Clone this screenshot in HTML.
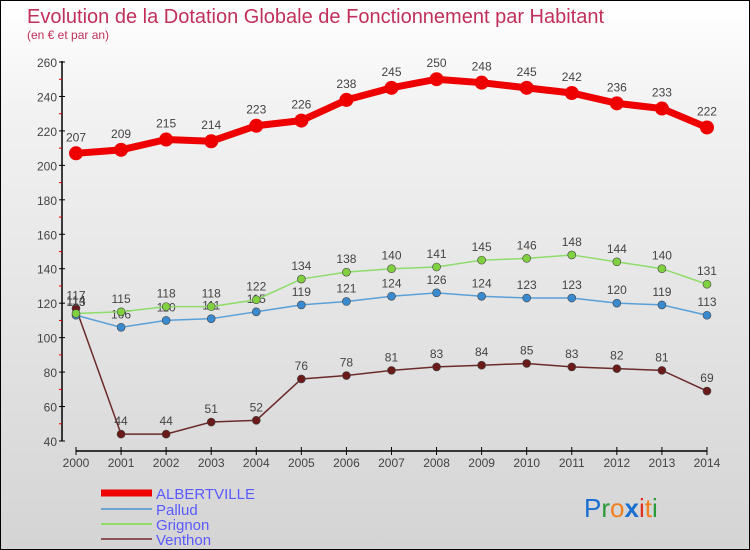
<!DOCTYPE html>
<html><head><meta charset="utf-8"><style>
body{margin:0;width:750px;height:550px;overflow:hidden}
#wrap{position:relative;width:748px;height:548px;border:1px solid #000;background:linear-gradient(#fff 0%,#f2f2f2 20%,#d4d4d4 100%);font-family:"Liberation Sans",sans-serif}
</style></head><body>
<div id="wrap">
<svg id="svg" width="748" height="548" style="position:absolute;left:0;top:0">
<text x="26" y="22" font-size="20" fill="#c0305a">Evolution de la Dotation Globale de Fonctionnement par Habitant</text>
<text x="26" y="38" font-size="12" fill="#c0305a">(en € et par an)</text>
<g id="axes"></g><g id="series"></g>
<g>
<line x1="100" y1="492" x2="151" y2="492" stroke="#e00" stroke-width="7"/>
<text x="155" y="498" font-size="15" fill="#5a5aff">ALBERTVILLE</text>
<line x1="100" y1="508" x2="151" y2="508" stroke="#6aa5d0" stroke-width="2"/>
<text x="155" y="514" font-size="15" fill="#5a5aff">Pallud</text>
<line x1="100" y1="523" x2="151" y2="523" stroke="#8fdc6a" stroke-width="2"/>
<text x="155" y="529" font-size="15" fill="#5a5aff">Grignon</text>
<line x1="100" y1="538" x2="151" y2="538" stroke="#8b5555" stroke-width="2"/>
<text x="155" y="544" font-size="15" fill="#5a5aff">Venthon</text>
</g>
<text x="583" y="516" font-size="26"><tspan fill="#1a6fd0">P</tspan><tspan fill="#2a9a3a">r</tspan><tspan fill="#f08020">o</tspan><tspan fill="#1a6fd0" font-weight="bold">x</tspan><tspan fill="#e03020">i</tspan><tspan fill="#f08020">t</tspan><tspan fill="#2a9a3a">i</tspan></text>
</svg>
</div>
<script>
const years=[2000,2001,2002,2003,2004,2005,2006,2007,2008,2009,2010,2011,2012,2013,2014];
const albertville=[207,209,215,214,223,226,238,245,250,248,245,242,236,233,222];
const pallud=[113,106,110,111,115,119,121,124,126,124,123,123,120,119,113];
const grignon=[114,115,118,118,122,134,138,140,141,145,146,148,144,140,131];
const venthon=[117,44,44,51,52,76,78,81,83,84,85,83,82,81,69];
const yTicks=[40,60,80,100,120,140,160,180,200,220,240,260];
const NS="http://www.w3.org/2000/svg";
function X(i){return 75+i*45.07;}
function Y(v){return 440-(v-40)*(379/220);}
function mk(tag,attrs,parent){const e=document.createElementNS(NS,tag);for(const k in attrs)e.setAttribute(k,attrs[k]);parent.appendChild(e);return e;}
const ax=document.getElementById('axes'),sr=document.getElementById('series');
let l=mk('line',{x1:61,y1:60,x2:61,y2:440,stroke:'#000','stroke-width':1.5},ax);


l=mk('line',{x1:75,y1:450,x2:706,y2:450,stroke:'#000','stroke-width':1.5},ax);


yTicks.forEach(v=>{const y=Y(v);
mk('line',{x1:58,y1:y,x2:64,y2:y,stroke:'#000'},ax);
if(v<260)mk('line',{x1:58,y1:y-17.2,x2:61,y2:y-17.2,stroke:'#e00'},ax);
const t=mk('text',{x:56,y:y+5,'font-size':12,fill:'#444','text-anchor':'end'},ax);t.textContent=v;

});
years.forEach((yr,i)=>{mk('line',{x1:X(i),y1:446,x2:X(i),y2:454,stroke:'#000'},ax);
const t=mk('text',{x:X(i),y:466,'font-size':12,fill:'#444','text-anchor':'middle'},ax);t.textContent=yr;

});
function series(vals,name,color,w,r,dot){
const p=mk('polyline',{points:vals.map((v,i)=>X(i)+','+Y(v)).join(' '),fill:'none',stroke:color,'stroke-width':w},sr);


vals.forEach((v,i)=>{const c=mk('circle',{cx:X(i),cy:Y(v),r:r,fill:dot,stroke:'#444','stroke-width':dot==='#e00'?0:0.6},sr);


const t=mk('text',{x:X(i),y:Y(v)-(r+5),'font-size':12,fill:'#444','text-anchor':'middle'},sr);t.textContent=v;

});}
series(venthon,'venthon','#6b2a2a',1.5,4,'#6b1a1a');
series(pallud,'pallud','#5aa0d8',1.5,4,'#3a8ad0');
series(grignon,'grignon','#8fdc6a',1.5,4,'#80d040');
series(albertville,'albertville','#e00',7,7,'#e00');
</script>
</body></html>
